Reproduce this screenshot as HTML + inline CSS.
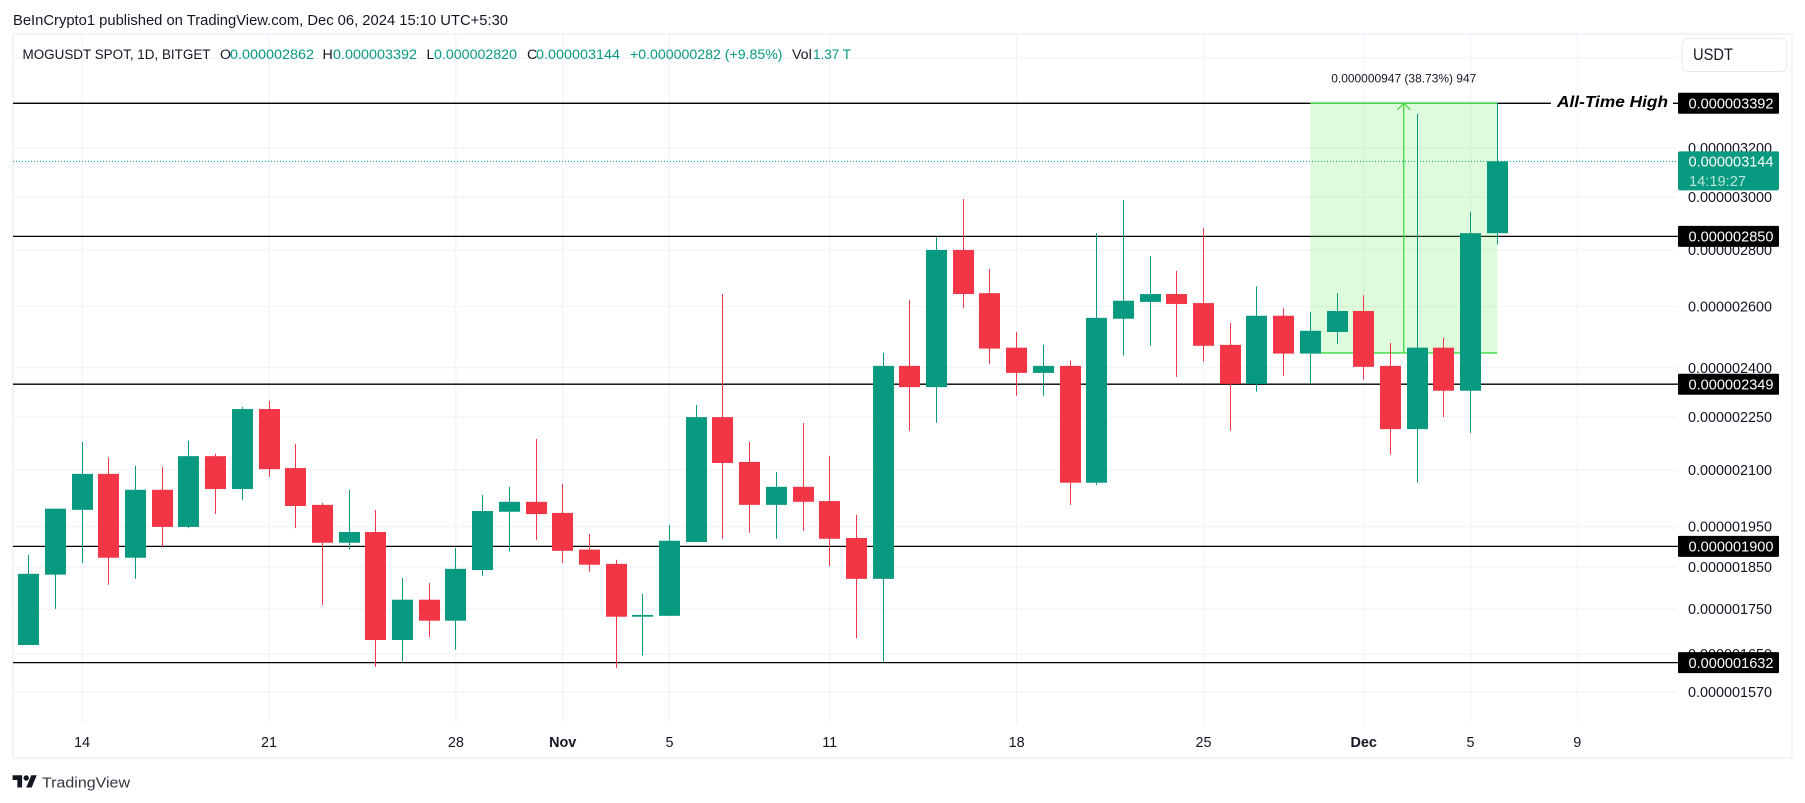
<!DOCTYPE html>
<html lang="en">
<head>
<meta charset="utf-8">
<title>MOGUSDT chart</title>
<style>
html,body{margin:0;padding:0;background:#fff;width:1805px;height:803px;overflow:hidden}
svg{display:block;font-family:"Liberation Sans",sans-serif}
</style>
</head>
<body>
<svg id="chart" xmlns="http://www.w3.org/2000/svg" width="1805" height="803" viewBox="0 0 1805 803">
  <rect x="0" y="0" width="1805" height="803" fill="#ffffff"/>
  <text x="13" y="25" font-size="14.4" fill="#131722" textLength="495" lengthAdjust="spacingAndGlyphs">BeInCrypto1 published on TradingView.com, Dec 06, 2024 15:10 UTC+5:30</text>
  <rect x="13" y="34" width="1779" height="724" fill="none" stroke="#f0f3fa" stroke-width="2"/>
  <g id="grid"></g>
  <g id="levels"></g>
  <g id="measure"></g>
  <g id="candles"></g>
  <g id="priceline"></g>

  <g font-size="14.2">
    <text x="22.5" y="59" fill="#131722" textLength="188" lengthAdjust="spacingAndGlyphs">MOGUSDT SPOT, 1D, BITGET</text>
    <text x="220" y="59" fill="#131722">O</text>
    <text x="230" y="59" fill="#089981" textLength="84" lengthAdjust="spacingAndGlyphs">0.000002862</text>
    <text x="322.5" y="59" fill="#131722">H</text>
    <text x="333" y="59" fill="#089981" textLength="84" lengthAdjust="spacingAndGlyphs">0.000003392</text>
    <text x="426.5" y="59" fill="#131722">L</text>
    <text x="434" y="59" fill="#089981" textLength="83" lengthAdjust="spacingAndGlyphs">0.000002820</text>
    <text x="527" y="59" fill="#131722">C</text>
    <text x="536" y="59" fill="#089981" textLength="84" lengthAdjust="spacingAndGlyphs">0.000003144</text>
    <text x="630" y="59" fill="#089981" textLength="152.5" lengthAdjust="spacingAndGlyphs">+0.000000282 (+9.85%)</text>
    <text x="792" y="59" fill="#131722">Vol</text>
    <text x="813" y="59" fill="#089981" textLength="38" lengthAdjust="spacingAndGlyphs">1.37 T</text>
  </g>

  <g id="axis"></g>
  <g id="time"></g>
  <g id="labels"></g>

  <g>
    <rect x="1682" y="38.5" width="105" height="33" rx="6" fill="#ffffff" stroke="#e6e9f0" stroke-width="1"/>
    <text x="1693" y="60" font-size="16.5" fill="#131722" textLength="40" lengthAdjust="spacingAndGlyphs">USDT</text>
  </g>

  <rect x="1551" y="92" width="122" height="20" fill="#ffffff"/>
  <text x="1557" y="107" font-size="16" font-weight="bold" font-style="italic" fill="#000000" textLength="111" lengthAdjust="spacingAndGlyphs">All-Time High</text>

  <g>
    <path transform="translate(12.6 772.5) scale(0.68)" fill="#131722" d="M14 22H7V11H0V4h14v18zM28 22h-8l7.5-18h8L28 22z"/>
    <circle cx="26.2" cy="778" r="2.7" fill="#131722"/>
    <text x="42" y="787.5" font-size="15" fill="#333640" textLength="88" lengthAdjust="spacingAndGlyphs">TradingView</text>
  </g>
</svg>

<script>
// Prices are in units of 0.000000001 USDT.
const dayLabels = ["Oct 12","Oct 13","Oct 14","Oct 15","Oct 16","Oct 17","Oct 18","Oct 19","Oct 20","Oct 21","Oct 22","Oct 23","Oct 24","Oct 25","Oct 26","Oct 27","Oct 28","Oct 29","Oct 30","Oct 31","Nov 1","Nov 2","Nov 3","Nov 4","Nov 5","Nov 6","Nov 7","Nov 8","Nov 9","Nov 10","Nov 11","Nov 12","Nov 13","Nov 14","Nov 15","Nov 16","Nov 17","Nov 18","Nov 19","Nov 20","Nov 21","Nov 22","Nov 23","Nov 24","Nov 25","Nov 26","Nov 27","Nov 28","Nov 29","Nov 30","Dec 1","Dec 2","Dec 3","Dec 4","Dec 5","Dec 6"];
const opens  = [1670,1831,1993,2089,1872,2046,1949,2138,2048,2274,2105,2006,1909,1936,1681,1772,1724,1842,1988,2014,1985,1892,1857,1733,1735,1911,2250,2122,2006,2054,2016,1921,1821,2406,2340,2800,2646,2464,2384,2406,2065,2559,2616,2643,2612,2473,2350,2569,2445,2515,2585,2406,2215,2464,2329,2862];
const highs  = [1879,1996,2178,2135,2111,2108,2181,2145,2280,2298,2172,2011,2046,1993,1823,1811,1896,2032,2054,2186,2062,1931,1867,1786,1954,2286,2643,2178,2094,2233,2138,1980,2447,2623,2847,2993,2731,2515,2473,2423,2862,2989,2778,2724,2881,2545,2670,2595,2582,2646,2639,2479,3345,2496,2942,3392];
const lows   = [1670,1751,1859,1807,1821,1899,1946,1982,2019,2081,1946,1760,1892,1623,1634,1687,1660,1828,1887,1916,1859,1838,1621,1647,1735,1911,1919,1934,1919,1939,1852,1685,1634,2210,2233,2595,2412,2314,2314,2006,2059,2439,2470,2372,2420,2210,2326,2375,2350,2476,2363,2142,2065,2250,2204,2820];
const closes = [1833,1996,2089,1872,2046,1949,2138,2048,2274,2102,2003,1909,1936,1681,1772,1724,1845,1990,2014,1982,1889,1855,1733,1737,1914,2250,2119,2006,2054,2014,1919,1821,2406,2340,2800,2643,2461,2384,2406,2065,2562,2620,2643,2609,2470,2350,2569,2445,2519,2585,2403,2215,2464,2329,2862,3144];

const priceTicks = [3600,3400,3200,3000,2800,2600,2400,2250,2100,1950,1850,1750,1650,1570];
const keyLevels = [3392,2850,2349,1900,1632];
const timeTickLabels = ["14","21","28","Nov","5","11","18","25","Dec","5","9"];
const timeTickIndex = [2,9,16,20,24,30,37,44,50,54,58];
const boldTimeTicks = ["Nov","Dec"];
const measureIndex = [48,55];
const measurePrices = [2447,3392];
const measureText = ["0.000000947 (38.73%) 947"];
const countdownText = ["14:19:27"];

const SVGNS = "http://www.w3.org/2000/svg";
const UP = "#089981", DOWN = "#f23645", LEFT = 13, RIGHT = 1676.5;

function xScale(i){ return 28.7 + 26.7 * i; }
function yScale(v){ return 103.3 + 764.5 * Math.log(3392 / v); }
function fmt(v){ return (v / 1e9).toFixed(9); }
function make(tag, parentId, attrs, text){
  const el = document.createElementNS(SVGNS, tag);
  for (const k in attrs) el.setAttribute(k, attrs[k]);
  if (text !== undefined) el.textContent = text;
  document.getElementById(parentId).appendChild(el);
  return el;
}

// Grid and price axis
priceTicks.forEach(function(p){
  const y = yScale(p);
  const line = make("line", "grid", {x1:LEFT, x2:RIGHT, y1:y, y2:y, stroke:"#f0f3fa", "stroke-width":1.2});
  
  
  const label = make("text", "axis", {x:1688, y:y + 5, "font-size":14.4, fill:"#131722", textLength:84, lengthAdjust:"spacingAndGlyphs"}, fmt(p));
  
  
});

// Time axis
timeTickLabels.forEach(function(t, k){
  const x = xScale(timeTickIndex[k]);
  const line = make("line", "grid", {x1:x, x2:x, y1:35, y2:723, stroke:"#f0f3fa", "stroke-width":1.2});
  
  
  const isBold = boldTimeTicks.indexOf(t) >= 0;
  const label = make("text", "time", {x:x, y:747, "font-size":14.4, "text-anchor":"middle", fill:"#131722", "font-weight":isBold ? "bold" : "normal"}, t);
  
  
});

// Horizontal key levels
keyLevels.forEach(function(p){
  const y = yScale(p);
  const line = make("line", "levels", {x1:LEFT, x2:1678, y1:y, y2:y, stroke:"#000000", "stroke-width":1.3});
  
  
});

// Measure tool
(function(){
  const x0 = xScale(measureIndex[0]), x1 = xScale(measureIndex[1]);
  const yBase = yScale(measurePrices[0]), yTop = yScale(measurePrices[1]);
  const xc = (x0 + x1) / 2;
  const box = make("rect", "measure", {x:x0, y:yTop, width:x1 - x0, height:yBase - yTop, fill:"#5cf04a", "fill-opacity":0.2});
  
  
  const top = make("line", "measure", {x1:x0, x2:x1, y1:yTop, y2:yTop, stroke:"#3fd93f", "stroke-width":1.3});
  
  
  const bottom = make("line", "measure", {x1:x0, x2:x1, y1:yBase, y2:yBase, stroke:"#3fd93f", "stroke-width":1.3});
  
  
  const shaft = make("line", "measure", {x1:xc, x2:xc, y1:yBase, y2:yTop, stroke:"#3fd93f", "stroke-width":1.3});
  
  
  const head = make("path", "measure", {d:"M" + (xc - 6.5) + " " + (yTop + 6.5) + "L" + xc + " " + yTop + "L" + (xc + 6.5) + " " + (yTop + 6.5), fill:"none", stroke:"#3fd93f", "stroke-width":1.2});
  
  
  const txt = make("text", "measure", {x:xc - 72.5, y:82.5, "font-size":12, fill:"#131722", textLength:145, lengthAdjust:"spacingAndGlyphs"}, measureText[0]);
  
  
})();

// Candles
dayLabels.forEach(function(day, i){
  const o = opens[i], h = highs[i], l = lows[i], c = closes[i];
  const color = c >= o ? UP : DOWN;
  const xc = Math.floor(xScale(i));
  const wick = make("rect", "candles", {x:xc, y:yScale(h), width:1, height:Math.max(0, yScale(l) - yScale(h)), fill:color});
  
  
  const top = yScale(Math.max(o, c)), bot = yScale(Math.min(o, c));
  const body = make("rect", "candles", {x:xc - 10, y:top, width:21, height:Math.max(1, bot - top), fill:color});
  
  
  const tip = make("title", "candles", {}, day);
  body.appendChild(tip);
});

// Current price line
(function(){
  const last = closes[closes.length - 1];
  const y = yScale(last);
  const line = make("line", "priceline", {x1:LEFT, x2:1678, y1:y, y2:y, stroke:UP, "stroke-width":1, "stroke-dasharray":"1 2"});
  
  
  const box = make("rect", "labels", {x:1678, y:y - 10, width:101, height:39, rx:2, fill:UP});
  
  
  const t = make("text", "labels", {x:1688.5, y:y + 5, "font-size":14.4, fill:"#ffffff", textLength:85, lengthAdjust:"spacingAndGlyphs"}, fmt(last));
  
  
  const cd = make("text", "labels", {x:1689, y:y + 24.5, "font-size":14.4, fill:"#b8e6da", textLength:57, lengthAdjust:"spacingAndGlyphs"}, countdownText[0]);
  
  
})();

// Key level labels
keyLevels.forEach(function(p){
  const y = yScale(p);
  const box = make("rect", "labels", {x:1678, y:y - 10.5, width:101, height:21, fill:"#000000", rx:1});
  
  
  const t = make("text", "labels", {x:1688.5, y:y + 5.3, "font-size":14.4, fill:"#ffffff", textLength:85, lengthAdjust:"spacingAndGlyphs"}, fmt(p));
  
  
});
</script>
</body>
</html>
